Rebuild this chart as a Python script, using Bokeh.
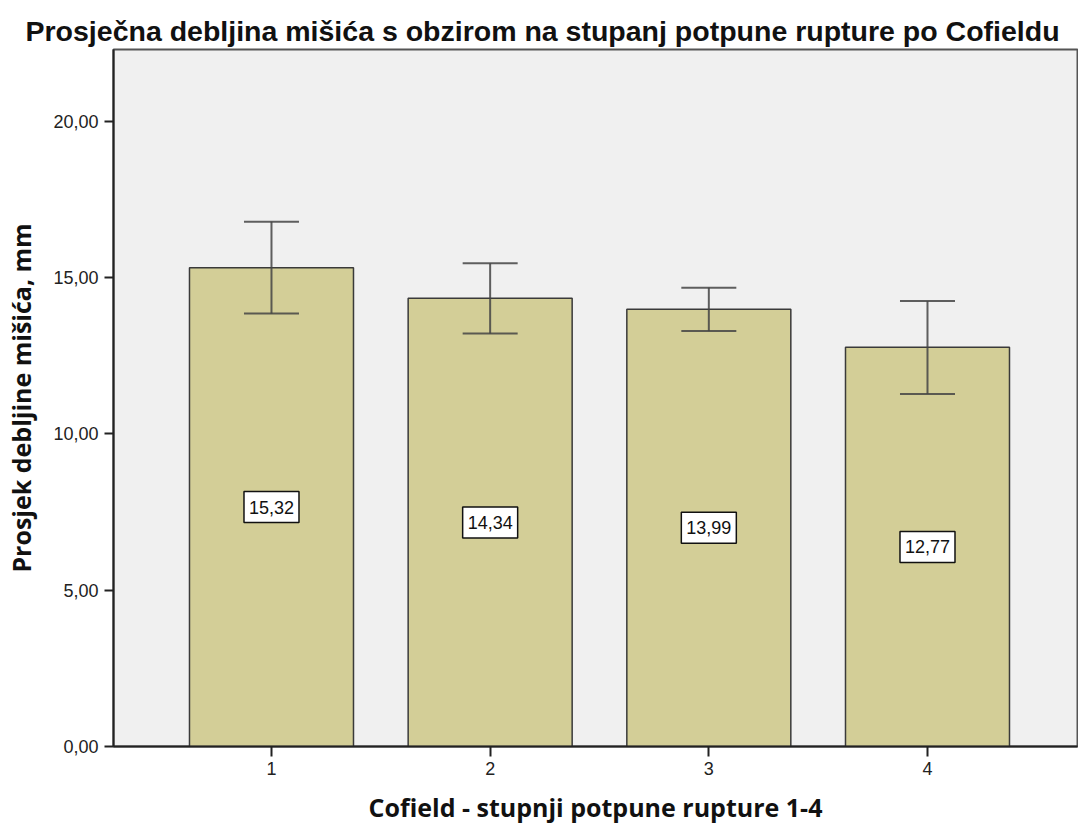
from bokeh.plotting import figure
from bokeh.models import ColumnDataSource, Range1d, FixedTicker, Whisker, TeeHead
from bokeh.core.properties import value
from bokeh.embed import file_html
from bokeh.resources import INLINE

categories = [1, 2, 3, 4]
category_labels = ["1", "2", "3", "4"]
means = [15.32, 14.34, 13.99, 12.77]
upper = [16.79, 15.46, 14.68, 14.25]
lower = [13.85, 13.21, 13.29, 11.28]
mean_labels = ["15,32", "14,34", "13,99", "12,77"]
y_ticks = [0, 5, 10, 15, 20]
y_tick_labels = ["0,00", "5,00", "10,00", "15,00", "20,00"]

src = ColumnDataSource(dict(
    x=categories, top=means, upper=upper, lower=lower,
    label=mean_labels, mid=[m / 2 for m in means],
))

p = figure(width=1078, height=826, output_backend="svg", toolbar_location=None,
           x_range=Range1d(0.2775, 4.686), y_range=Range1d(0, 22.3),
           min_border_left=113, min_border_right=1, min_border_top=49, min_border_bottom=79,
           title="Prosječna debljina mišića s obzirom na stupanj potpune rupture po Cofieldu")

p.background_fill_color = "#F0F0F0"
p.border_fill_color = "white"
p.outline_line_color = "#555555"
p.outline_line_width = 2
p.grid.visible = False

p.title.text_font = "Liberation Sans"
p.title.text_font_size = "28.5px"
p.title.text_font_style = "bold"
p.title.text_color = "#111111"
p.title.align = "left"
p.title.offset = -88
p.title.standoff = 6

p.vbar(x="x", top="top", width=0.75, source=src, fill_color="#D3CE97",
       line_color="#3a3a3a", line_width=1.5)

w = Whisker(base="x", upper="upper", lower="lower", source=src, level="overlay",
            line_color="#444444", line_width=2, line_alpha=0.85)
w.upper_head = TeeHead(size=55, line_color="#444444", line_width=2, line_alpha=0.85)
w.lower_head = TeeHead(size=55, line_color="#444444", line_width=2, line_alpha=0.85)
p.add_layout(w)

p.rect(x="x", y="mid", width=55, height=31, width_units="screen", height_units="screen",
       source=src, fill_color="white", line_color="#111111", line_width=1.5)
p.text(x="x", y="mid", text="label", source=src, text_align="center", text_baseline="middle",
       text_font=value("Liberation Sans"), text_font_size="18px", text_color="#111111")

# axes
p.xaxis.ticker = FixedTicker(ticks=categories)
p.xaxis.major_label_overrides = {c: l for c, l in zip(categories, category_labels)}
p.yaxis.ticker = FixedTicker(ticks=y_ticks)
p.yaxis.major_label_overrides = {t: l for t, l in zip(y_ticks, y_tick_labels)}

for ax in (p.xaxis[0], p.yaxis[0]):
    ax.axis_line_color = "#222222"
    ax.axis_line_width = 2
    ax.major_tick_line_color = "#222222"
    ax.major_tick_line_width = 2
    ax.minor_tick_line_color = None
    ax.major_tick_in = 0
    ax.major_label_text_font = "Liberation Sans"
    ax.major_label_text_font_size = "18px"
    ax.major_label_text_color = "#222222"
    ax.axis_label_text_font = "Open Sans"
    ax.axis_label_text_font_style = "bold"
    ax.axis_label_text_font_size = "25px"
    ax.axis_label_text_color = "#111111"

p.xaxis.major_tick_out = 10
p.xaxis.major_label_standoff = 5
p.xaxis.axis_label = "Cofield - stupnji potpune rupture 1-4"
p.xaxis.axis_label_standoff = 12

p.yaxis.major_tick_out = 9
p.yaxis.major_label_standoff = 6
p.yaxis.axis_label = "Prosjek debljine mišića, mm"
p.yaxis.axis_label_standoff = 12

open("out.html", "w").write(file_html(p, INLINE))
